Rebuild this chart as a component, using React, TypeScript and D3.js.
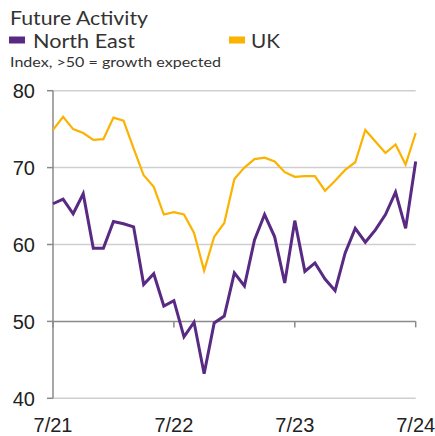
import React from "react";
import * as d3 from "d3";

const months: string[] = Array.from({ length: 37 }, (_, i) => {
  const m = ((6 + i) % 12) + 1;
  const y = 21 + Math.floor((6 + i) / 12);
  return `${m}/${y}`;
});

const northEast: number[] = [65.3, 65.9, 64.0, 66.6, 59.5, 59.5, 63.0, 62.7, 62.3, 54.8, 56.2, 52.0, 52.7, 48.0, 49.9, 43.2, 49.8, 50.7, 56.3, 54.6, 60.6, 63.9, 61.0, 55.0, 63.1, 56.5, 57.6, 55.5, 54.0, 58.9, 62.1, 60.3, 61.9, 63.9, 66.8, 62.1, 70.8];
const uk: number[] = [74.9, 76.6, 75.0, 74.5, 73.6, 73.7, 76.5, 76.1, 72.5, 69.0, 67.5, 63.9, 64.2, 63.9, 61.5, 56.6, 61.0, 62.8, 68.5, 70.0, 71.1, 71.3, 70.8, 69.4, 68.8, 68.9, 68.9, 67.0, 68.3, 69.7, 70.7, 74.9, 73.4, 71.9, 73.0, 70.4, 74.5];

const yTicks: number[] = [40, 50, 60, 70, 80];
const xTickLabels: string[] = ["7/21", "7/22", "7/23", "7/24"];

const PURPLE = "#582A83";
const GOLD = "#FBB200";
const FONT = "Lato";

export default function App() {
  const W = 435, H = 436;
  const x = d3.scaleLinear().domain([0, months.length - 1]).range([53, 415.7]);
  const y = d3.scaleLinear().domain([40, 80]).range([398.3, 90.7]);
  const line = d3.line<number>().x((_, i) => x(i)).y((d) => y(d));
  const tickIdx = xTickLabels.map((l) => months.indexOf(l));

  return (
    <svg width={W} height={H} style={{ position: "absolute", left: 0, top: 0, background: "#fff" }}>
      <text x={10} y={24.8} fontFamily={FONT} fontSize={19} fill="#333" textLength={138} lengthAdjust="spacingAndGlyphs">Future Activity</text>
      <rect x={9} y={36.5} width={16} height={7} fill={PURPLE} />
      <text x={33} y={48} fontFamily={FONT} fontSize={19.5} fill="#333" textLength={102} lengthAdjust="spacingAndGlyphs">North East</text>
      <rect x={229} y={36.5} width={16} height={7} fill={GOLD} />
      <text x={251} y={48} fontFamily={FONT} fontSize={19.5} fill="#333" textLength={29} lengthAdjust="spacingAndGlyphs">UK</text>
      <text x={10} y={66.7} fontFamily={FONT} fontSize={14} fill="#333" textLength={211} lengthAdjust="spacingAndGlyphs">Index, &gt;50 = growth expected</text>

      {yTicks.filter((t) => t !== 50).map((t) => (
        <line key={t} x1={53} x2={415.7} y1={y(t)} y2={y(t)} stroke="#cfcfcf" strokeWidth={1.5} />
      ))}
      {yTicks.map((t) => (
        <g key={"yt" + t}>
          <line x1={47} x2={53} y1={y(t)} y2={y(t)} stroke="#8a8a8a" strokeWidth={1.5} />
          <text x={35} y={y(t)} dy="0.36em" textAnchor="end" fontFamily="Liberation Sans" fontSize={20} fill="#222">{t}</text>
        </g>
      ))}
      <line x1={53} x2={53} y1={y(80)} y2={y(40)} stroke="#8a8a8a" strokeWidth={1.5} />
      <line x1={53} x2={415.7} y1={y(50)} y2={y(50)} stroke="#8a8a8a" strokeWidth={1.5} />
      {tickIdx.map((i, k) => (
        <g key={"xt" + k}>
          <line x1={x(i)} x2={x(i)} y1={y(50)} y2={y(50) + 6} stroke="#8a8a8a" strokeWidth={1.5} />
          <text x={x(i)} y={432} textAnchor="middle" fontFamily="Liberation Sans" fontSize={20} fill="#222">{xTickLabels[k]}</text>
        </g>
      ))}

      <path d={line(uk) || ""} fill="none" stroke={GOLD} strokeWidth={2.2} strokeLinejoin="miter" />
      <path d={line(northEast) || ""} fill="none" stroke={PURPLE} strokeWidth={3} strokeLinejoin="miter" />
    </svg>
  );
}
